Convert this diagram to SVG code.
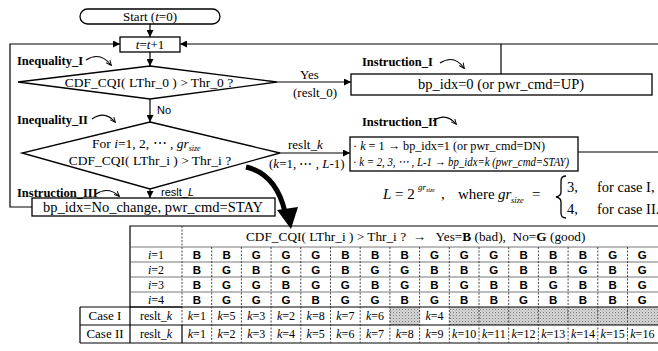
<svg xmlns="http://www.w3.org/2000/svg" width="658" height="351" viewBox="0 0 658 351">
<defs>
<style>
.ln{stroke:#000;stroke-width:1.2;fill:none}
.bx{stroke:#000;stroke-width:1.3;fill:#fff}
.t{font-family:"Liberation Serif","Times New Roman",serif;font-size:13px;fill:#000}
.lb{font-family:"Liberation Serif","Times New Roman",serif;font-size:12.5px;font-weight:bold;fill:#000}
.s{font-family:"Liberation Sans",Arial,sans-serif;font-size:11px;fill:#000}
.bg{font-family:"Liberation Sans",Arial,sans-serif;font-size:11.5px;font-weight:bold;fill:#000;text-anchor:middle}
.tc{font-family:"Liberation Serif","Times New Roman",serif;font-size:12px;fill:#000;text-anchor:middle}
.cur{stroke:#000;stroke-width:1.1;fill:none;marker-end:url(#sm)}
.grid{stroke:#555;stroke-width:0.8;fill:none}
.dash{stroke:#333;stroke-width:0.9;stroke-dasharray:2,1.5;fill:none}
.it{font-style:italic}
</style>
<marker id="ah" viewBox="0 0 10 10" refX="10" refY="5" markerWidth="7" markerHeight="7" orient="auto" markerUnits="userSpaceOnUse">
<path d="M0,0 L10,5 L0,10 z" fill="#000"/>
</marker>
<marker id="sm" viewBox="0 0 10 10" refX="8" refY="5" markerWidth="6" markerHeight="6" orient="auto" markerUnits="userSpaceOnUse">
<path d="M0,1 L9,5 L0,9" fill="none" stroke="#000" stroke-width="1.6"/>
</marker>
<pattern id="dots" width="3" height="3" patternUnits="userSpaceOnUse">
<rect width="3" height="3" fill="#d8d8d8"/>
<rect x="0" y="0" width="1" height="1" fill="#777"/>
<rect x="1.5" y="1.5" width="1" height="1" fill="#999"/>
</pattern>
</defs>
<rect width="658" height="351" fill="#fff"/>

<g id="connectors">
<line class="ln" x1="150" y1="24" x2="150" y2="37" marker-end="url(#ah)"/>
<polyline class="ln" points="32,207 10,207 10,44 120,44" marker-end="url(#ah)"/>
<line class="ln" x1="658" y1="44" x2="180" y2="44" marker-end="url(#ah)"/>
<line class="ln" x1="501" y1="44" x2="501" y2="74"/>
<line class="ln" x1="150" y1="52" x2="150" y2="66" marker-end="url(#ah)"/>
<line class="ln" x1="277" y1="82" x2="351" y2="82" marker-end="url(#ah)"/>
<line class="ln" x1="150" y1="99" x2="150" y2="122" marker-end="url(#ah)"/>
<line class="ln" x1="280" y1="153" x2="350" y2="153" marker-end="url(#ah)"/>
<line class="ln" x1="578" y1="152" x2="658" y2="152"/>
<line class="ln" x1="150" y1="189" x2="150" y2="198" marker-end="url(#ah)"/>
<path d="M246,167 Q276,174 285,212" stroke="#000" stroke-width="5" fill="none"/>
<path d="M277,210 L298,207 L291,229 z" fill="#000"/>
<path class="cur" d="M86,60 Q100,51 111,65"/>
<path class="cur" d="M440,63 Q454,54 464,68"/>
<path class="cur" d="M92,119 Q105,110 115,122"/>
<path class="cur" d="M433,121 Q446,112 456,124"/>
<path class="cur" d="M96,194 Q108,186 119,196"/>
</g>

<g id="start">
<rect class="bx" x="80" y="9" width="140" height="15" rx="7.5"/>
<text class="t" x="150" y="21" text-anchor="middle">Start (<tspan class="it">t</tspan>=0)</text>
</g>

<g id="step">
<rect class="bx" x="120" y="37" width="60" height="15"/>
<text class="t" x="150" y="49" text-anchor="middle"><tspan class="it">t</tspan>=<tspan class="it">t</tspan>+1</text>
</g>

<g id="inequality1">
<polygon class="bx" points="150,66 277,82 150,99 18,82"/>
<text class="lb" x="17" y="65">Inequality_I</text>
<text class="t" x="149" y="87" text-anchor="middle" style="font-size:13.5px">CDF_CQI( LThr_0 ) &gt; Thr_0 ?</text>
<text class="t" x="300" y="79">Yes</text>
<text class="t" x="293" y="97">(reslt_0)</text>
<text class="s" x="157" y="114">No</text>
</g>

<g id="instruction1">
<rect class="bx" x="351" y="74" width="301" height="21"/>
<text class="lb" x="362" y="66">Instruction_I</text>
<text class="t" x="501" y="89" text-anchor="middle" style="font-size:14.5px">bp_idx=0 (or pwr_cmd=UP)</text>
</g>

<g id="inequality2">
<polygon class="bx" points="150,122 280,153 150,189 22,153"/>
<text class="lb" x="17" y="124">Inequality_II</text>
<text class="t" x="92" y="148" style="font-size:13.5px">For <tspan class="it">i</tspan>=1, 2, ⋯ , <tspan class="it">gr</tspan><tspan class="it" font-size="8" dy="3">size</tspan></text>
<text class="t" x="150" y="165" text-anchor="middle" style="font-size:13.5px">CDF_CQI( LThr_i ) &gt; Thr_i ?</text>
<text class="t" x="288" y="149">reslt_<tspan class="it">k</tspan></text>
<text class="t" x="269" y="168">(<tspan class="it">k</tspan>=1, ⋯ , <tspan class="it">L</tspan>-1)</text>
</g>

<g id="instruction2">
<rect class="bx" x="350" y="137" width="228" height="34"/>
<text class="lb" x="362" y="126">Instruction_II</text>
<text class="t" transform="translate(353,150) scale(0.92,1)" style="font-size:13.3px">· <tspan class="it">k</tspan> = 1 → bp_idx=1 (or pwr_cmd=DN)</text>
<text class="t" transform="translate(353,166) scale(0.81,1)" style="font-size:13.3px">· <tspan class="it">k = 2, 3, ⋯ , L-1</tspan> → <tspan class="it">bp_idx=k (pwr_cmd=STAY)</tspan></text>
</g>

<g id="instruction3">
<rect class="bx" x="32" y="198" width="243" height="18"/>
<text class="lb" x="17" y="197">Instruction_III</text>
<text class="s" x="161" y="196">reslt_<tspan class="it">L</tspan></text>
<text class="t" x="153" y="212" text-anchor="middle" style="font-size:14.5px">bp_idx=No_change, pwr_cmd=STAY</text>
</g>

<g id="equation">
<text class="t" x="383" y="199" style="font-size:15px"><tspan class="it">L</tspan> = 2</text>
<text class="t it" x="418" y="190" style="font-size:9px">gr</text>
<text class="t it" x="426" y="192" style="font-size:6px">size</text>
<text class="t" x="441" y="199" style="font-size:15px">,</text>
<text class="t" x="458" y="199" style="font-size:15px">where</text>
<text class="t it" x="498" y="199" style="font-size:15px">gr</text>
<text class="t it" x="511" y="203" style="font-size:8.5px">size</text>
<text class="t" x="532" y="199" style="font-size:15px">=</text>
<path d="M566,176 Q561,176 561,181 L561,192 Q561,196 556,197 Q561,198 561,202 L561,213 Q561,218 566,218" stroke="#000" stroke-width="1.3" fill="none"/>
<text class="t" x="567" y="192" style="font-size:14.5px">3,</text>
<text class="t" x="597" y="192" style="font-size:14.5px">for case I,</text>
<text class="t" x="567" y="214" style="font-size:14.5px">4,</text>
<text class="t" x="597" y="214" style="font-size:14.5px">for case II.</text>
</g>

<g id="table">
<rect x="389.9" y="307" width="29.7" height="18" fill="url(#dots)"/>
<rect x="449.3" y="307" width="209" height="18" fill="url(#dots)"/>
<polyline class="ln" points="130,307 130,226 658,226"/>
<line class="ln" x1="80" y1="307" x2="80" y2="343"/>
<line class="ln" x1="80" y1="343" x2="658" y2="343"/>
<line class="ln" x1="80" y1="307" x2="182" y2="307"/>
<line class="ln" x1="130" y1="307" x2="130" y2="343"/>
<line class="ln" x1="182" y1="325" x2="182" y2="343"/>
<line class="dash" x1="182" y1="226" x2="182" y2="325"/>
<g class="grid">
<line x1="130" y1="247" x2="658" y2="247"/>
<line x1="130" y1="262" x2="658" y2="262"/>
<line x1="130" y1="277" x2="658" y2="277"/>
<line x1="130" y1="292" x2="658" y2="292"/>
<line x1="130" y1="307" x2="658" y2="307" stroke="#000" stroke-width="1.1"/>
<line x1="80" y1="325" x2="658" y2="325" stroke="#000" stroke-width="1.1"/>
</g>
<g class="dash">
<line x1="211.7" y1="247" x2="211.7" y2="343"/>
<line x1="241.4" y1="247" x2="241.4" y2="343"/>
<line x1="271.1" y1="247" x2="271.1" y2="343"/>
<line x1="300.8" y1="247" x2="300.8" y2="343"/>
<line x1="330.5" y1="247" x2="330.5" y2="343"/>
<line x1="360.2" y1="247" x2="360.2" y2="343"/>
<line x1="389.9" y1="247" x2="389.9" y2="343"/>
<line x1="419.6" y1="247" x2="419.6" y2="343"/>
<line x1="449.3" y1="247" x2="449.3" y2="343"/>
<line x1="479" y1="247" x2="479" y2="343"/>
<line x1="508.7" y1="247" x2="508.7" y2="343"/>
<line x1="538.4" y1="247" x2="538.4" y2="343"/>
<line x1="568.1" y1="247" x2="568.1" y2="343"/>
<line x1="597.8" y1="247" x2="597.8" y2="343"/>
<line x1="627.5" y1="247" x2="627.5" y2="343"/>
</g>
<text class="t" x="246" y="241" style="font-size:13.3px" xml:space="preserve">CDF_CQI( LThr_i ) &gt; Thr_i ?  →   Yes=<tspan font-weight="bold">B</tspan> (bad),  No=<tspan font-weight="bold">G</tspan> (good)</text>
<text class="tc" x="156" y="259"><tspan class="it">i</tspan>=1</text>
<text class="tc" x="156" y="274"><tspan class="it">i</tspan>=2</text>
<text class="tc" x="156" y="289"><tspan class="it">i</tspan>=3</text>
<text class="tc" x="156" y="304"><tspan class="it">i</tspan>=4</text>
<text class="tc" x="105" y="320" style="font-size:13px">Case I</text>
<text class="tc" x="105" y="338" style="font-size:13px">Case II</text>
<text class="tc" x="156" y="320">reslt_<tspan class="it">k</tspan></text>
<text class="tc" x="156" y="338">reslt_<tspan class="it">k</tspan></text>
<g>
<text class="bg" x="196.85" y="259">B</text><text class="bg" x="226.55" y="259">B</text><text class="bg" x="256.25" y="259">G</text><text class="bg" x="285.95" y="259">G</text><text class="bg" x="315.65" y="259">G</text><text class="bg" x="345.35" y="259">B</text><text class="bg" x="375.05" y="259">B</text><text class="bg" x="404.75" y="259">B</text><text class="bg" x="434.45" y="259">G</text><text class="bg" x="464.15" y="259">G</text><text class="bg" x="493.85" y="259">G</text><text class="bg" x="523.55" y="259">B</text><text class="bg" x="553.25" y="259">B</text><text class="bg" x="582.95" y="259">B</text><text class="bg" x="612.65" y="259">G</text><text class="bg" x="642.35" y="259">G</text>
<text class="bg" x="196.85" y="274">B</text><text class="bg" x="226.55" y="274">G</text><text class="bg" x="256.25" y="274">B</text><text class="bg" x="285.95" y="274">G</text><text class="bg" x="315.65" y="274">G</text><text class="bg" x="345.35" y="274">B</text><text class="bg" x="375.05" y="274">G</text><text class="bg" x="404.75" y="274">G</text><text class="bg" x="434.45" y="274">B</text><text class="bg" x="464.15" y="274">B</text><text class="bg" x="493.85" y="274">G</text><text class="bg" x="523.55" y="274">B</text><text class="bg" x="553.25" y="274">B</text><text class="bg" x="582.95" y="274">G</text><text class="bg" x="612.65" y="274">B</text><text class="bg" x="642.35" y="274">G</text>
<text class="bg" x="196.85" y="289">B</text><text class="bg" x="226.55" y="289">G</text><text class="bg" x="256.25" y="289">G</text><text class="bg" x="285.95" y="289">B</text><text class="bg" x="315.65" y="289">G</text><text class="bg" x="345.35" y="289">G</text><text class="bg" x="375.05" y="289">B</text><text class="bg" x="404.75" y="289">G</text><text class="bg" x="434.45" y="289">B</text><text class="bg" x="464.15" y="289">G</text><text class="bg" x="493.85" y="289">B</text><text class="bg" x="523.55" y="289">B</text><text class="bg" x="553.25" y="289">G</text><text class="bg" x="582.95" y="289">B</text><text class="bg" x="612.65" y="289">B</text><text class="bg" x="642.35" y="289">G</text>
<text class="bg" x="196.85" y="304">B</text><text class="bg" x="226.55" y="304">G</text><text class="bg" x="256.25" y="304">G</text><text class="bg" x="285.95" y="304">G</text><text class="bg" x="315.65" y="304">B</text><text class="bg" x="345.35" y="304">G</text><text class="bg" x="375.05" y="304">G</text><text class="bg" x="404.75" y="304">B</text><text class="bg" x="434.45" y="304">G</text><text class="bg" x="464.15" y="304">B</text><text class="bg" x="493.85" y="304">B</text><text class="bg" x="523.55" y="304">G</text><text class="bg" x="553.25" y="304">B</text><text class="bg" x="582.95" y="304">B</text><text class="bg" x="612.65" y="304">B</text><text class="bg" x="642.35" y="304">G</text>
</g>
<g>
<text class="tc" x="196.85" y="320"><tspan class="it">k</tspan>=1</text><text class="tc" x="226.55" y="320"><tspan class="it">k</tspan>=5</text><text class="tc" x="256.25" y="320"><tspan class="it">k</tspan>=3</text><text class="tc" x="285.95" y="320"><tspan class="it">k</tspan>=2</text><text class="tc" x="315.65" y="320"><tspan class="it">k</tspan>=8</text><text class="tc" x="345.35" y="320"><tspan class="it">k</tspan>=7</text><text class="tc" x="375.05" y="320"><tspan class="it">k</tspan>=6</text><text class="tc" x="434.45" y="320"><tspan class="it">k</tspan>=4</text>
<text class="tc" x="196.85" y="338"><tspan class="it">k</tspan>=1</text><text class="tc" x="226.55" y="338"><tspan class="it">k</tspan>=2</text><text class="tc" x="256.25" y="338"><tspan class="it">k</tspan>=3</text><text class="tc" x="285.95" y="338"><tspan class="it">k</tspan>=4</text><text class="tc" x="315.65" y="338"><tspan class="it">k</tspan>=5</text><text class="tc" x="345.35" y="338"><tspan class="it">k</tspan>=6</text><text class="tc" x="375.05" y="338"><tspan class="it">k</tspan>=7</text><text class="tc" x="404.75" y="338"><tspan class="it">k</tspan>=8</text><text class="tc" x="434.45" y="338"><tspan class="it">k</tspan>=9</text><text class="tc" x="464.15" y="338"><tspan class="it">k</tspan>=10</text><text class="tc" x="493.85" y="338"><tspan class="it">k</tspan>=11</text><text class="tc" x="523.55" y="338"><tspan class="it">k</tspan>=12</text><text class="tc" x="553.25" y="338"><tspan class="it">k</tspan>=13</text><text class="tc" x="582.95" y="338"><tspan class="it">k</tspan>=14</text><text class="tc" x="612.65" y="338"><tspan class="it">k</tspan>=15</text><text class="tc" x="642.35" y="338"><tspan class="it">k</tspan>=16</text>
</g>
</g>
</svg>
